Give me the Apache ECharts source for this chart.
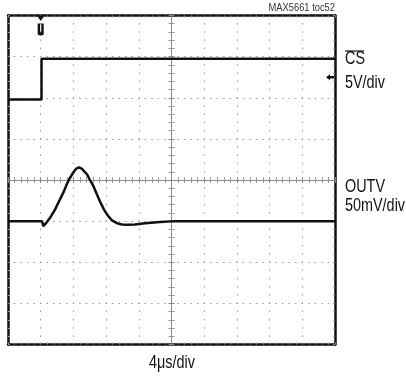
<!DOCTYPE html>
<html><head><meta charset="utf-8">
<script src="https://cdn.jsdelivr.net/npm/echarts@6/dist/echarts.min.js"></script>
<style>html,body{margin:0;padding:0;background:#fff}#c{width:406px;height:377px}</style>
</head><body><div id="c"></div><script>
// time in µs relative to screen centre (4 µs/div), level in divisions
const csTime  = [-20, -15.9, -15.9, 20];
const csLevel = [1.96, 1.96, 2.95, 2.95];
const outTime  = [-20, -15.84, -15.68, -15.35, -14.86, -14.25, -13.64, -13.15, -12.78, -12.42, -12.05, -11.69, -11.32, -10.95, -10.34, -9.97, -9.60, -8.75, -8.26, -7.77, -7.28, -6.67, -6.06, -5.44, -4.47, -3.24, -1.41, 0.43, 20];
const outLevel = [-1.0, -1.0, -1.12, -1.05, -0.92, -0.72, -0.47, -0.27, -0.09, 0.05, 0.17, 0.27, 0.31, 0.27, 0.14, 0.0, -0.13, -0.52, -0.72, -0.87, -0.98, -1.05, -1.08, -1.09, -1.08, -1.05, -1.02, -1.0, -1.0];
const triggerTime = -16;
const csGroundLevel = 2.5;
const labels = { note: 'MAX5661 toc52', ch1: 'CS', ch1Scale: '5V/div', ch2: 'OUTV', ch2Scale: '50mV/div', time: '4μs/div' };

const FONT = "'Liberation Sans',Arial,sans-serif";
const NARROW = 0.8;
const chart = echarts.init(document.getElementById('c'), null, {renderer:'canvas'});

function xAx(pos, onZero, border) {
  return {
    type:'value', min:-20, max:20, interval:4, position:pos,
    axisLabel:{show:false},
    axisLine:{show:true, onZero:onZero, onZeroAxisIndex:0, lineStyle:{color: border ? '#111' : '#8a8a8a', width: border ? 2.5 : 1}},
    axisTick:{show:true, inside:true, length: border ? 2 : 3, lineStyle:{color:'#888', width:1}},
    minorTick:{show:true, splitNumber:5, length: border ? 2 : 3, lineStyle:{color:'#999', width:1}},
    splitLine:{show: border && pos==='bottom', lineStyle:{color:'#9a9a9a', width:1, type:[1.5, 6.72], dashOffset:0.75}}
  };
}
function yAx(pos, onZero, border) {
  return {
    type:'value', min:-4, max:4, interval:1, position:pos,
    axisLabel:{show:false},
    axisLine:{show:true, onZero:onZero, onZeroAxisIndex:0, lineStyle:{color: border ? '#111' : '#8a8a8a', width: border ? 2.5 : 1}},
    axisTick:{show:true, inside:true, length: border ? 2 : 3, lineStyle:{color:'#888', width:1}},
    minorTick:{show:true, splitNumber:5, length: border ? 2 : 3, lineStyle:{color:'#999', width:1}},
    splitLine:{show: border && pos==='left', lineStyle:{color:'#9a9a9a', width:1, type:[1.5, 5.04], dashOffset:0.75}}
  };
}

chart.setOption({
  animation:false,
  grid:{left:8, right:71, top:15.5, bottom:32.5, containLabel:false},
  xAxis:[xAx('bottom', false, true), xAx('top', false, true), xAx('bottom', true, false), xAx('top', true, false)],
  yAxis:[yAx('left', false, true), yAx('right', false, true), yAx('left', true, false), yAx('right', true, false)],
  series:[
    {type:'line', xAxisIndex:0, yAxisIndex:0, symbol:'none', z:5,
     data: csTime.map((t,i)=>[t, csLevel[i]]),
     lineStyle:{color:'#111', width:2.5},
     markPoint:{animation:false, label:{show:false}, data:[
       {coord:[triggerTime, 4], symbol:'triangle', symbolRotate:180, symbolSize:[7,5], symbolOffset:[0,3], itemStyle:{color:'#111'}},
       {coord:[triggerTime, 3.66], symbol:'path://M0,0 L2.4,0 L2.4,8 L3.6,8 L3.6,0 L6,0 L6,10 Q3,12 0,10 Z', symbolSize:[6,12], itemStyle:{color:'#111'}},
       {coord:[20, csGroundLevel], symbol:'path://M0,5 L6,0 L6,3 L12,3 L12,7 L6,7 L6,10 Z', symbolSize:[8,6], symbolOffset:[-5,0], itemStyle:{color:'#111'}}
     ]}},
    {type:'line', xAxisIndex:0, yAxisIndex:0, symbol:'none', z:5,
     data: outTime.map((t,i)=>[t, outLevel[i]]),
     lineStyle:{color:'#111', width:2.5}}
  ],
  graphic:[
    {type:'text', x:335, y:2, scaleX:0.85, style:{text:labels.note, font:'11px '+FONT, fill:'#333', align:'right', verticalAlign:'top'}},
    {type:'text', x:345, y:50, scaleX:NARROW, style:{text:labels.ch1, font:'18px '+FONT, fill:'#111', verticalAlign:'top'}},
    {type:'line', shape:{x1:345, y1:51, x2:364, y2:51}, style:{stroke:'#111', lineWidth:1.2}},
    {type:'text', x:345, y:74, scaleX:NARROW, style:{text:labels.ch1Scale, font:'18px '+FONT, fill:'#111', verticalAlign:'top'}},
    {type:'text', x:345, y:178.5, scaleX:NARROW, style:{text:labels.ch2, font:'18px '+FONT, fill:'#111', verticalAlign:'top'}},
    {type:'text', x:345, y:197.5, scaleX:NARROW, style:{text:labels.ch2Scale, font:'18px '+FONT, fill:'#111', verticalAlign:'top'}},
    {type:'text', x:172, y:354, scaleX:NARROW, style:{text:labels.time, font:'18px '+FONT, fill:'#111', align:'center', verticalAlign:'top'}}
  ]
});
</script></body></html>
